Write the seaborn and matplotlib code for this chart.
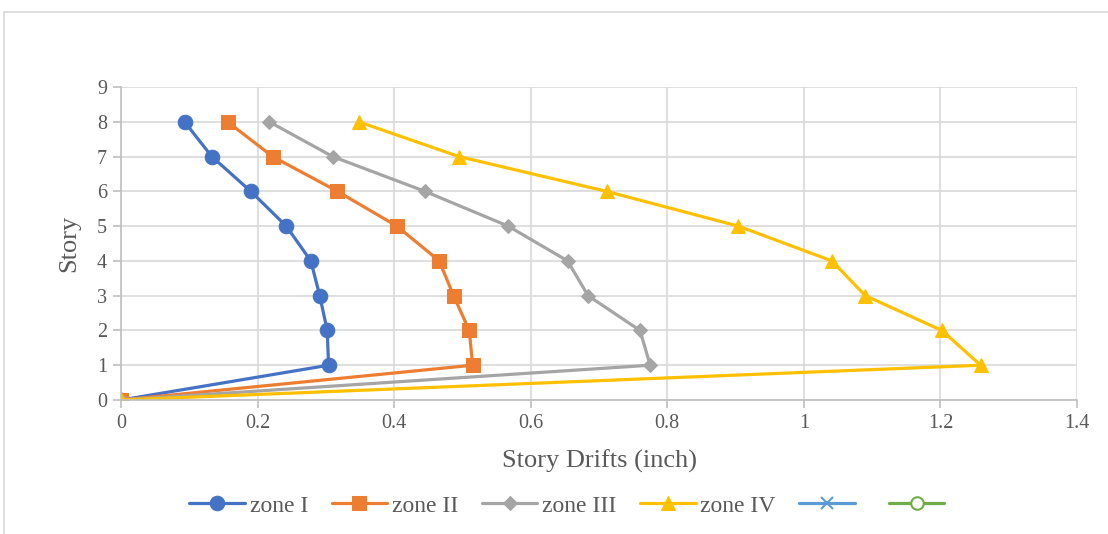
import matplotlib
matplotlib.use("Agg")
import matplotlib.pyplot as plt
import seaborn as sns
import pandas as pd
from matplotlib.lines import Line2D
from matplotlib.ticker import FixedLocator, FuncFormatter

stories = [0, 1, 2, 3, 4, 5, 6, 7, 8]
zone_I = [0, 0.304, 0.302, 0.291, 0.278, 0.242, 0.190, 0.133, 0.093]
zone_II = [0, 0.515, 0.510, 0.487, 0.466, 0.404, 0.317, 0.222, 0.156]
zone_III = [0, 0.775, 0.760, 0.684, 0.654, 0.567, 0.445, 0.310, 0.217]
zone_IV = [0, 1.259, 1.202, 1.090, 1.041, 0.904, 0.711, 0.495, 0.348]
series_names = ["zone I", "zone II", "zone III", "zone IV"]
x_ticks = [0, 0.2, 0.4, 0.6, 0.8, 1.0, 1.2, 1.4]
y_ticks = [0, 1, 2, 3, 4, 5, 6, 7, 8, 9]

sns.set_theme(style="white")
plt.rcParams['font.family'] = ['Liberation Serif', 'DejaVu Serif']

fig = plt.figure(figsize=(11.08, 5.34), dpi=100)
ax = fig.add_axes([121/1108, 1-400/534, (1077-121)/1108, (400-87)/534])

colors = ["#4472C4", "#ED7D31", "#A5A5A5", "#FFC000"]
markers = ["o", "s", "D", "^"]
msizes = [10.5, 10, 7.5, 10]
values = [zone_I, zone_II, zone_III, zone_IV]

for name, vals, c, m, ms in zip(series_names, values, colors, markers, msizes):
    df = pd.DataFrame({"drift": vals, "story": stories})
    sns.lineplot(data=df, x="drift", y="story", orient="y", sort=True,
                 estimator=None, color=c, marker=m, markersize=ms,
                 markeredgecolor=c, linewidth=2.3, ax=ax, label=name)

# empty series shown in legend only
ax.plot([], [], color="#5B9BD5", marker="x", markersize=9, linewidth=2.3,
        markeredgewidth=1.5, label=" ")
ax.plot([], [], color="#70AD47", marker="o", markersize=9, linewidth=2.3,
        markerfacecolor="white", markeredgewidth=1.5, label=" ")

ax.set_xlim(0, 1.4)
ax.set_ylim(0, 9)
ax.xaxis.set_major_locator(FixedLocator(x_ticks))
ax.yaxis.set_major_locator(FixedLocator(y_ticks))
ax.xaxis.set_major_formatter(FuncFormatter(lambda v, p: f"{v:g}"))
ax.grid(True, color="#D9D9D9", linewidth=1.2)
ax.set_axisbelow(True)
for s in ["top", "right"]:
    ax.spines[s].set_visible(False)
for s in ["left", "bottom"]:
    ax.spines[s].set_color("#BFBFBF")
    ax.spines[s].set_linewidth(1.2)
ax.tick_params(axis="both", which="major", length=6, width=1.2, color="#BFBFBF",
               labelsize=14.5, labelcolor="#595959", direction="out", pad=4,
               bottom=True, left=True)

ax.set_xlabel("Story Drifts (inch)", fontsize=19, color="#595959", labelpad=12)
ax.set_ylabel("Story", fontsize=19, color="#595959", labelpad=12)

handles, labels = ax.get_legend_handles_labels()
ax.legend(handles, labels, loc="center", bbox_to_anchor=(0.472, -0.338), ncol=6,
          frameon=False, fontsize=17, labelcolor="#595959", handlelength=2.35,
          columnspacing=1.0, handletextpad=0.2)

# chart area border
fig.add_artist(Line2D([4/1108, 1.0], [1-12/534, 1-12/534], color="#D9D9D9", lw=1.2,
                      transform=fig.transFigure))
fig.add_artist(Line2D([4/1108, 4/1108], [0, 1-12/534], color="#D9D9D9", lw=1.2,
                      transform=fig.transFigure))

fig.savefig("out.png", dpi=100, facecolor="white")
